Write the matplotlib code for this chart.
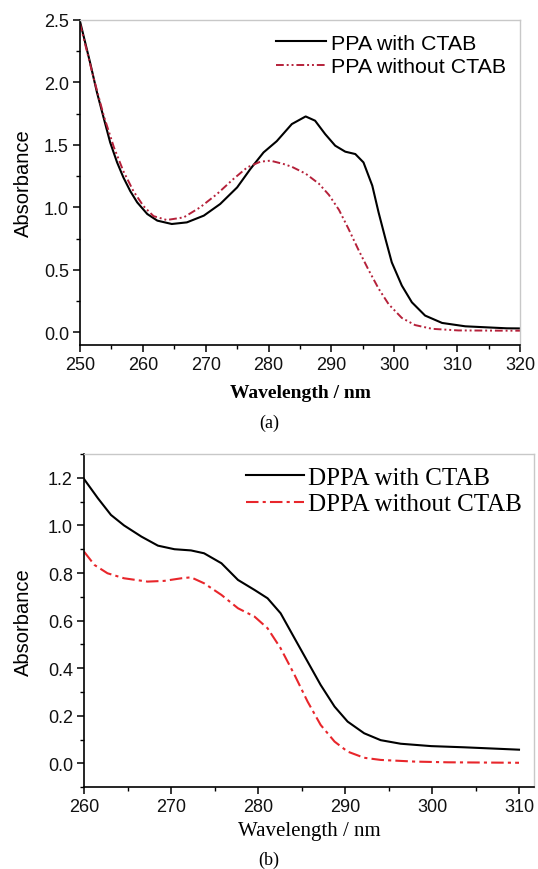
import matplotlib
matplotlib.use("Agg")
import matplotlib.pyplot as plt
from matplotlib.ticker import MultipleLocator, FormatStrFormatter

# ---- Panel (a) data: PPA ----
wl_a = [250.0, 251.6, 252.7, 253.8, 254.8, 255.9, 256.9, 258.0, 259.1, 260.7, 262.3, 264.6,
        267.0, 269.7, 272.3, 275.0, 277.1, 279.2, 281.3, 283.7, 285.9, 287.4, 289.0, 290.6,
        292.2, 293.8, 295.1, 296.5, 297.5, 298.6, 299.6, 301.2, 302.8, 304.9, 307.6, 311.3,
        317.9, 320.0]
ppa_ctab = [2.49, 2.16, 1.92, 1.71, 1.52, 1.36, 1.24, 1.13, 1.04, 0.947, 0.894, 0.867,
            0.88, 0.934, 1.027, 1.16, 1.307, 1.44, 1.53, 1.667, 1.728, 1.694, 1.587, 1.494,
            1.446, 1.427, 1.36, 1.174, 0.96, 0.747, 0.56, 0.374, 0.24, 0.134, 0.075, 0.048,
            0.032, 0.031]
wl_a2 = [250.0, 250.6, 252.2, 253.8, 255.4, 256.9, 258.5, 260.1, 261.7, 263.8, 266.5, 269.1,
         271.8, 274.4, 276.6, 278.7, 280.3, 282.4, 283.7, 285.9, 288.0, 289.6, 291.2, 292.7,
         294.3, 295.9, 297.5, 299.1, 301.2, 303.3, 306.0, 310.2, 317.9, 320.0]
ppa_no_ctab = [2.47, 2.35, 2.03, 1.73, 1.48, 1.29, 1.13, 1.01, 0.93, 0.899, 0.92, 1.0,
               1.107, 1.227, 1.32, 1.366, 1.374, 1.347, 1.325, 1.27, 1.19, 1.10, 0.98, 0.83,
               0.66, 0.50, 0.35, 0.225, 0.115, 0.058, 0.028, 0.015, 0.013, 0.013]

# ---- Panel (b) data: DPPA ----
wl_b = [260.0, 261.6, 263.1, 264.6, 266.6, 268.5, 270.4, 272.3, 273.8, 275.8, 277.7, 279.6,
        281.1, 282.6, 284.2, 285.7, 287.2, 288.8, 290.3, 292.2, 294.1, 296.4, 299.9, 303.7,
        307.5, 310.0]
dppa_ctab = [1.195, 1.114, 1.044, 1.0, 0.953, 0.915, 0.90, 0.895, 0.883, 0.841, 0.771, 0.729,
             0.694, 0.631, 0.526, 0.428, 0.33, 0.239, 0.176, 0.127, 0.098, 0.083, 0.073, 0.068,
             0.062, 0.058]
wl_b2 = [260.0, 261.2, 262.7, 264.6, 267.3, 269.2, 271.2, 272.3, 273.8, 275.8, 277.7, 279.6,
         281.1, 282.6, 284.2, 285.7, 287.2, 288.8, 290.3, 292.2, 294.1, 298.0, 301.8, 310.0]
dppa_no_ctab = [0.89, 0.834, 0.799, 0.778, 0.764, 0.767, 0.778, 0.782, 0.757, 0.708, 0.652,
                0.617, 0.568, 0.484, 0.372, 0.26, 0.162, 0.092, 0.05, 0.024, 0.015, 0.008,
                0.005, 0.003]

SANS = "Liberation Sans"
SERIF = "Liberation Serif"

fig = plt.figure(figsize=(5.38, 8.70), dpi=100)


def style_axes(ax):
    for s in ("top", "right"):
        ax.spines[s].set_color("#c8c8c8")
        ax.spines[s].set_linewidth(1.0)
    for s in ("left", "bottom"):
        ax.spines[s].set_color("black")
        ax.spines[s].set_linewidth(1.2)
    ax.tick_params(which="major", direction="out", length=5, width=1.1, top=False, right=False,
                   labelsize=13, pad=3, labelcolor="#111111")
    ax.tick_params(which="minor", direction="out", length=3, width=1.0, top=False, right=False)
    for lab in ax.get_xticklabels() + ax.get_yticklabels():
        lab.set_fontfamily(SANS)


# Panel (a)
ax1 = fig.add_axes([80 / 538, 1 - 345.8 / 870, 440 / 538, (345.8 - 21) / 870])
ax1.plot(wl_a, ppa_ctab, color="black", lw=1.5, label="PPA with CTAB")
ax1.plot(wl_a2, ppa_no_ctab, color="#b5213a", lw=1.4, dashes=(4, 1.5, 1, 1.5, 1, 1.5),
         label="PPA without CTAB")
ax1.set_xlim(250, 320)
ax1.set_ylim(-0.1, 2.5)
ax1.xaxis.set_major_locator(MultipleLocator(10))
ax1.xaxis.set_minor_locator(MultipleLocator(5))
ax1.yaxis.set_major_locator(MultipleLocator(0.5))
ax1.yaxis.set_minor_locator(MultipleLocator(0.25))
ax1.yaxis.set_major_formatter(FormatStrFormatter("%.1f"))
style_axes(ax1)
ax1.set_ylabel("Absorbance", fontfamily=SANS, fontsize=14.5, labelpad=8)
ax1.set_xlabel("Wavelength / nm", fontfamily=SERIF, fontweight="bold", fontsize=14, labelpad=8)
ax1.legend(loc="upper right", frameon=False, prop={"family": SANS, "size": 15.4},
           handlelength=2.3, handletextpad=0.25, labelspacing=0.2, borderaxespad=0.35,
           borderpad=0.3)
fig.text(0.5, 1 - 423 / 870, "(a)", ha="center", va="center", fontfamily=SERIF, fontsize=13)

# Panel (b)
ax2 = fig.add_axes([84 / 538, 1 - 788.3 / 870, 450 / 538, (788.3 - 455) / 870])
ax2.plot(wl_b, dppa_ctab, color="black", lw=1.5, label="DPPA with CTAB")
ax2.plot(wl_b2, dppa_no_ctab, color="#e8262b", lw=1.5, dashes=(6, 2, 1.5, 2),
         label="DPPA without CTAB")
ax2.set_xlim(260, 260 + 450 / 8.7)
ax2.set_ylim(-0.1, 1.3)
ax2.xaxis.set_major_locator(MultipleLocator(10))
ax2.xaxis.set_minor_locator(MultipleLocator(5))
ax2.yaxis.set_major_locator(MultipleLocator(0.2))
ax2.yaxis.set_minor_locator(MultipleLocator(0.1))
ax2.yaxis.set_major_formatter(FormatStrFormatter("%.1f"))
style_axes(ax2)
ax2.set_ylabel("Absorbance", fontfamily=SANS, fontsize=14.5, labelpad=11)
ax2.set_xlabel("Wavelength / nm", fontfamily=SERIF, fontsize=15, labelpad=4)
ax2.legend(loc="upper right", frameon=False, prop={"family": SERIF, "size": 18},
           handlelength=2.3, handletextpad=0.15, labelspacing=0.15, borderaxespad=0.2,
           borderpad=0.3)
fig.text(0.5, 1 - 860 / 870, "(b)", ha="center", va="center", fontfamily=SERIF, fontsize=13)

fig.savefig("out.png", dpi=100)
